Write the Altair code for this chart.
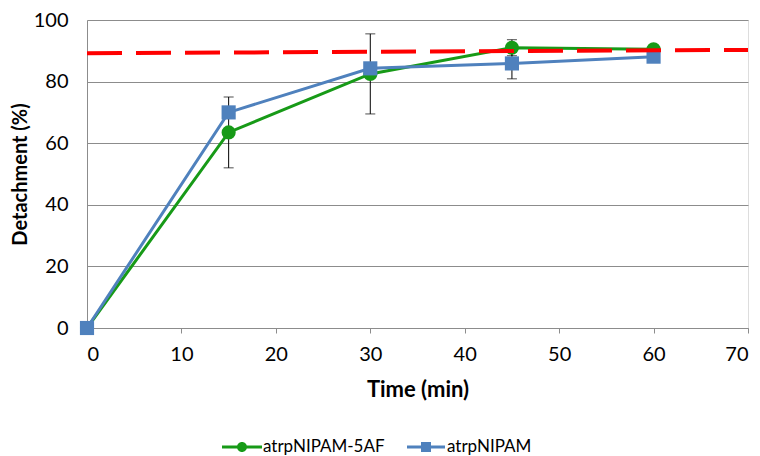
import altair as alt
import pandas as pd

time_min = [0, 15, 30, 45, 60]
series_names = ["atrpNIPAM-5AF", "atrpNIPAM"]
green_vals = [0.0, 63.5, 82.5, 91.0, 90.5]
blue_vals = [0.0, 70.0, 84.3, 85.9, 88.1]
green_err = [0.0, 11.5, 13.0, 2.6, 0.0]
blue_err = [0.0, 0.0, 0.0, 5.0, 0.0]
ref_time = [0, 70]
ref_vals = [89.2, 90.3]

GREEN = "#179a17"
BLUE = "#4f81bd"
RED = "#ff0000"
GRID = "#8c8c8c"
FONT = "Lato"

rows = []
for name, vals, errs in [(series_names[0], green_vals, green_err), (series_names[1], blue_vals, blue_err)]:
    for t, v, e in zip(time_min, vals, errs):
        rows.append({"time": t, "value": v, "err": e, "lo": v - e, "hi": v + e, "series": name})
df = pd.DataFrame(rows)
err_df = df[df["err"] > 0]
ref_df = pd.DataFrame({"time": ref_time, "value": ref_vals})

xscale = alt.Scale(domain=[0, 70], nice=False)
yscale = alt.Scale(domain=[0, 100], nice=False)
xaxis = alt.Axis(values=list(range(0, 71, 10)), title="Time (min)", grid=False,
                 domainColor=GRID, tickColor=GRID, tickSize=5, labelPadding=11,
                 labelFontSize=20, labelColor="#000000", labelFont=FONT,
                 titleFontSize=22, titleFontWeight="bold", titleFont=FONT,
                 titleColor="#000000", titlePadding=15)
yaxis = alt.Axis(values=list(range(0, 101, 20)), title="Detachment (%)", grid=True,
                 gridColor=GRID, domainColor=GRID, ticks=False, tickSize=0,
                 labelPadding=19, labelFontSize=20, labelColor="#000000", labelFont=FONT,
                 titleFontSize=20, titleFontWeight="bold", titleFont=FONT,
                 titleColor="#000000", titlePadding=3)

def cscale():
    return alt.Scale(domain=series_names, range=[GREEN, BLUE])

base = alt.Chart(df)

x_enc = alt.X("time:Q", scale=xscale, axis=xaxis)
y_enc = alt.Y("value:Q", scale=yscale, axis=yaxis)

err_rule = alt.Chart(err_df).mark_rule(color="#000000", strokeWidth=1).encode(
    x=alt.X("time:Q", scale=xscale), y=alt.Y("lo:Q", scale=yscale), y2="hi:Q")
err_lo = alt.Chart(err_df).mark_tick(color="#000000", thickness=1, size=10, orient="horizontal").encode(
    x=alt.X("time:Q", scale=xscale), y=alt.Y("lo:Q", scale=yscale))
err_hi = alt.Chart(err_df).mark_tick(color="#000000", thickness=1, size=10, orient="horizontal").encode(
    x=alt.X("time:Q", scale=xscale), y=alt.Y("hi:Q", scale=yscale))

lines = base.mark_line(strokeWidth=3).encode(
    x=x_enc, y=y_enc,
    color=alt.Color("series:N", scale=cscale(), legend=None),
    detail="series:N")

points = base.mark_point(filled=True, opacity=1, size=200).encode(
    x=alt.X("time:Q", scale=xscale), y=alt.Y("value:Q", scale=yscale),
    color=alt.Color("series:N", scale=cscale(), legend=None),
    shape=alt.Shape("series:N", scale=alt.Scale(domain=series_names, range=["circle", "square"]), legend=None))

circ_path = ("M-2,-0.15L2,-0.15L2,0.15L-2,0.15Z"
             "M0.5,0A0.5,0.5 0 1,1 -0.5,0A0.5,0.5 0 1,1 0.5,0Z")
sq_path = ("M-1.9,-0.15L1.9,-0.15L1.9,0.15L-1.9,0.15Z"
           "M-0.5,-0.5L0.5,-0.5L0.5,0.5L-0.5,0.5Z")

leg = alt.Legend(title=None, orient="none", direction="horizontal",
                 legendX=145, legendY=417, symbolOpacity=1,
                 symbolSize=400, symbolStrokeWidth=0,
                 labelFontSize=17, labelFont=FONT, labelColor="#000000",
                 labelOffset=11, columnPadding=22)

legend_layer = base.mark_point(filled=True, opacity=0, size=400).encode(
    x=alt.X("time:Q", scale=xscale), y=alt.Y("value:Q", scale=yscale),
    color=alt.Color("series:N", scale=cscale(), legend=leg),
    shape=alt.Shape("series:N", scale=alt.Scale(domain=series_names, range=[circ_path, sq_path]),
                    legend=leg))

ref_line = alt.Chart(ref_df).mark_line(color=RED, strokeWidth=4, strokeDash=[35, 14]).encode(
    x=alt.X("time:Q", scale=xscale), y=alt.Y("value:Q", scale=yscale))

chart = alt.layer(lines, err_rule, err_lo, err_hi, points, legend_layer, ref_line).resolve_scale(
    shape="independent", color="independent"
).properties(
    width=661, height=308,
    autosize=alt.AutoSizeParams(type="none"),
    padding={"left": 79, "top": 12, "right": 4, "bottom": 140},
).configure_view(stroke=None).configure(background="#ffffff")

chart.save("out.html", embed_options={"renderer": "svg", "actions": False})
